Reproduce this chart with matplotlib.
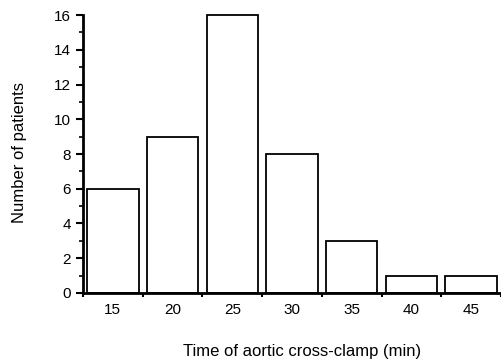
import matplotlib
matplotlib.use("Agg")
import matplotlib.pyplot as plt
from matplotlib.ticker import FixedLocator, MultipleLocator, NullFormatter

categories = [15, 20, 25, 30, 35, 40, 45]
counts = [6, 9, 16, 8, 3, 1, 1]
bin_edges = [12.5, 17.5, 22.5, 27.5, 32.5, 37.5, 42.5, 47.5]
yticks = [0, 2, 4, 6, 8, 10, 12, 14, 16]

plt.rcParams['font.family'] = ['Liberation Sans', 'DejaVu Sans']

fig = plt.figure(figsize=(5.02, 3.61), dpi=100)
ax = fig.add_axes([0.1653, 0.1884, 0.8327, 0.7700])

bars = ax.bar(categories, counts, width=4.3, color='white', edgecolor='black',
              linewidth=1.3, zorder=3)
for b in bars:
    b.set_clip_on(False)

ax.set_xlim(12.5, 47.5)
ax.set_ylim(0, 16)

for s in ['top', 'right']:
    ax.spines[s].set_visible(False)
ax.spines['left'].set_linewidth(2.0)
ax.spines['bottom'].set_linewidth(2.0)
ax.spines['bottom'].set_zorder(4)

# x: major ticks at bin edges (no labels), minor ticks at centers carrying labels
ax.xaxis.set_major_locator(FixedLocator(bin_edges))
ax.xaxis.set_major_formatter(NullFormatter())
ax.xaxis.set_minor_locator(FixedLocator(categories))
ax.set_xticklabels([str(c) for c in categories], minor=True)
ax.tick_params(axis='x', which='major', direction='out', length=3, width=1.5)
ax.tick_params(axis='x', which='minor', length=0, pad=7, labelsize=11)

ax.set_yticks(yticks)
ax.yaxis.set_minor_locator(MultipleLocator(1))
ax.tick_params(axis='y', which='major', direction='out', length=5, width=1.5,
               pad=3.5, labelsize=11)
ax.tick_params(axis='y', which='minor', direction='out', length=3, width=1.2)

ax.set_xlabel('Time of aortic cross-clamp (min)', fontsize=12)
ax.set_ylabel('Number of patients', fontsize=12)
ax.xaxis.set_label_coords(0.524, -0.183)
ax.yaxis.set_label_coords(-0.133, 0.507)

fig.savefig('out.png', dpi=100)
